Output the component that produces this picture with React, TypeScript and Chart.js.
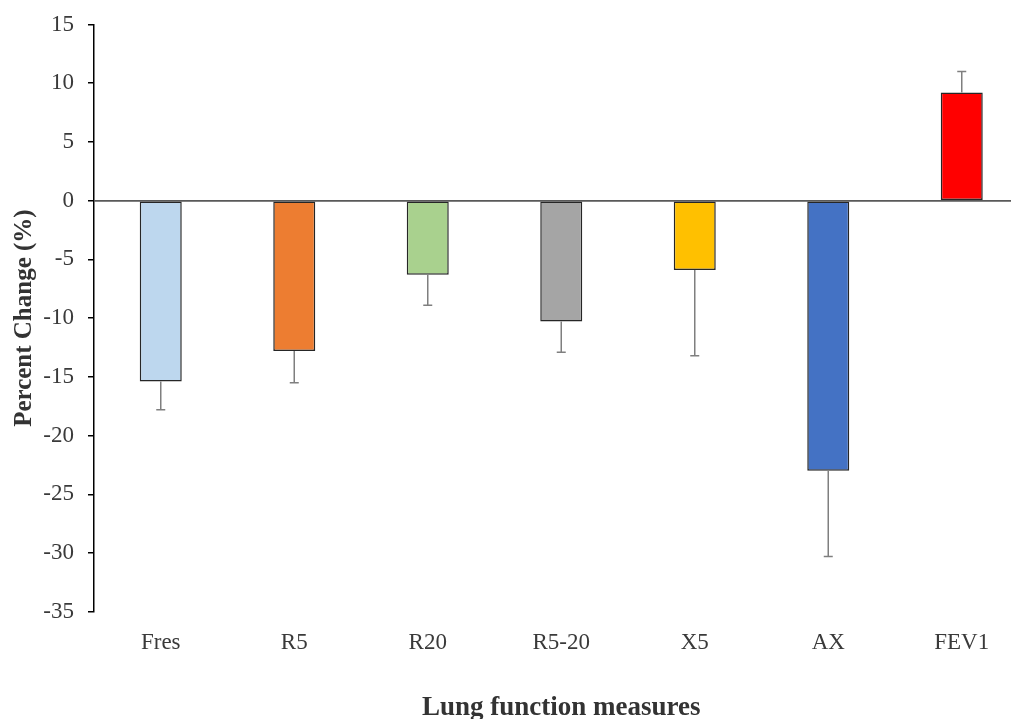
import React, { useEffect, useRef } from "react";
import { Chart, registerables } from "chart.js";

Chart.register(...registerables);

const categories = ["Fres", "R5", "R20", "R5-20", "X5", "AX", "FEV1"];
const percentChange = [-15.4, -12.8, -6.3, -10.3, -5.9, -23.0, 9.2];
const errorValues = [2.4, 2.7, 2.6, 2.6, 7.3, 7.3, 1.8];
const barColors = ["#BDD7EE", "#ED7D31", "#A9D18E", "#A5A5A5", "#FFC000", "#4472C4", "#FF0000"];
const yMin = -35;
const yMax = 15;
const yStep = 5;

const errorBarPlugin = {
  id: "errorBars",
  afterDatasetsDraw(chart: any) {
    const meta = chart.getDatasetMeta(0);
    const yScale = chart.scales.y;
    const ctx = chart.ctx;
    const area = chart.chartArea;
    ctx.save();
    const yZero = yScale.getPixelForValue(0);
    ctx.strokeStyle = "#595959";
    ctx.lineWidth = 1.5;
    ctx.beginPath();
    ctx.moveTo(area.left, yZero);
    ctx.lineTo(area.right, yZero);
    ctx.stroke();
    ctx.strokeStyle = "#7F7F7F";
    ctx.lineWidth = 1.5;
    meta.data.forEach((bar: any, i: number) => {
      const v = percentChange[i];
      const e = errorValues[i];
      const end = v >= 0 ? v + e : v - e;
      const y0 = yScale.getPixelForValue(v);
      const y1 = yScale.getPixelForValue(end);
      const x = bar.x;
      ctx.beginPath();
      ctx.moveTo(x, y0);
      ctx.lineTo(x, y1);
      ctx.moveTo(x - 4.5, y1);
      ctx.lineTo(x + 4.5, y1);
      ctx.stroke();
    });
    ctx.restore();
  },
};

export default function App() {
  const canvasRef = useRef<HTMLCanvasElement | null>(null);

  useEffect(() => {
    document.body.style.margin = "0";
    document.body.style.overflow = "hidden";
    const canvas = canvasRef.current;
    if (!canvas) return;
    const chart = new Chart(canvas, {
      type: "bar",
      data: {
        labels: categories,
        datasets: [
          {
            data: percentChange,
            backgroundColor: barColors,
            borderColor: "#262626",
            borderWidth: 1.5,
            borderSkipped: false,
            categoryPercentage: 1,
            barPercentage: 42 / 133.5,
          },
        ],
      },
      options: {
        responsive: false,
        animation: false,
        devicePixelRatio: 1,
        layout: { padding: { top: 24.5, right: 1.5, left: 0, bottom: 0 } },
        plugins: {
          legend: { display: false },
          tooltip: { enabled: false },
        },
        scales: {
          x: {
            grid: { display: false, drawTicks: false },
            border: { display: false },
            ticks: {
              color: "#3A3A3A",
              padding: 17,
              font: { family: "'Liberation Serif', 'Times New Roman', serif", size: 23 },
            },
            title: {
              display: true,
              text: "Lung function measures",
              color: "#333333",
              padding: { top: 0, bottom: 0 },
              font: { family: "'Liberation Serif', 'Times New Roman', serif", size: 27, weight: "bold", lineHeight: 0.8 },
            },
            afterFit(scale: any) {
              scale.height = 107.3;
              scale.paddingLeft = 0;
              scale.paddingRight = 0;
            },
          },
          y: {
            min: yMin,
            max: yMax,
            ticks: {
              stepSize: yStep,
              color: "#3A3A3A",
              padding: 14,
              font: { family: "'Liberation Serif', 'Times New Roman', serif", size: 23 },
            },
            grid: {
              color: (c: any) => (c.tick && c.tick.value === 0 ? "#595959" : "rgba(0,0,0,0)"),
              lineWidth: 1.5,
              tickColor: "#000000",
              tickLength: 6,
              tickWidth: 1.5,
            },
            border: { display: true, color: "#000000", width: 1.5 },
            title: {
              display: true,
              text: "Percent Change (%)",
              color: "#333333",
              padding: { top: 10, bottom: 0 },
              font: { family: "'Liberation Serif', 'Times New Roman', serif", size: 25, weight: "bold", lineHeight: 1.2 },
            },
            afterFit(scale: any) {
              scale.width = 94;
              scale.paddingTop = 0;
              scale.paddingBottom = 0;
            },
          },
        },
      },
      plugins: [errorBarPlugin],
    });
    return () => chart.destroy();
  }, []);

  return (
    <div style={{ width: 1011, height: 719, overflow: "hidden", background: "#fff" }}>
      <canvas ref={canvasRef} width={1030} height={719} style={{ display: "block" }} />
    </div>
  );
}
